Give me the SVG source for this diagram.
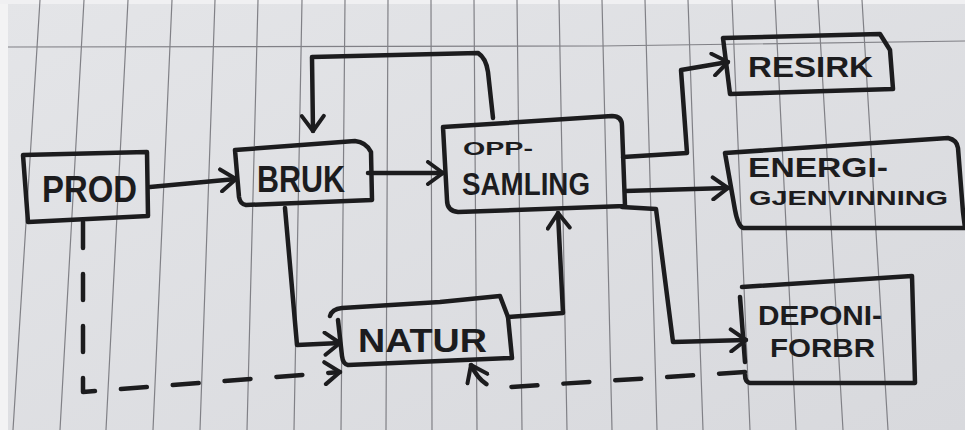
<svg xmlns="http://www.w3.org/2000/svg" width="965" height="430" viewBox="0 0 965 430">
<style>
.grid{stroke:#808086;stroke-width:1.2;fill:none}
.box{fill:none;stroke:#1c1c1e;stroke-width:4.5;stroke-linejoin:round;stroke-linecap:round}
.edge{fill:none;stroke:#1c1c1e;stroke-width:4.5;stroke-linejoin:round;stroke-linecap:round}
.dash{stroke-dasharray:26 26}
.lbl{font-family:"Liberation Sans","DejaVu Sans",sans-serif;font-weight:bold;fill:#1c1c1e}
</style>
<defs>
<linearGradient id="paper" x1="0" y1="0" x2="1" y2="1">
<stop offset="0" stop-color="#e4e5e8"/>
<stop offset="1" stop-color="#d8d9dd"/>
</linearGradient>
<marker id="ah" viewBox="0 0 20 26" refX="18" refY="13" markerWidth="20" markerHeight="26" markerUnits="userSpaceOnUse" orient="auto">
<path d="M3,2 L18,13 L3,24" fill="none" stroke="#1c1c1e" stroke-width="4" stroke-linecap="round" stroke-linejoin="round"/>
</marker>
</defs>
<rect width="965" height="430" fill="url(#paper)"/>
<rect width="8" height="430" fill="#f3f3f4"/>
<rect width="965" height="4" fill="#f0f0f2"/>
<g id="paper-grid">
<path class="grid" d="M40,0 L13,430 M84,0 L60,430 M128,0 L106,430 M172,0 L153,430 M215,0 L200,430 M258,0 L247,430 M302,0 L294,430 M345,0 L341,430 M388,0 L386,430 M431,0 L432,430 M474,0 L477,430 M517,0 L522,430 M559,0 L567,430 M602,0 L612,430 M645,0 L657,430 M688,0 L703,430 M732,0 L750,430 M775,0 L796,430 M818,0 L843,430 M862,0 L888,430"/>
<path class="grid" d="M8,47 L600,46 L965,41" stroke-width="1.5"/>
</g>
<g id="connectors">
<path class="edge" d="M150,187 L236,179" marker-end="url(#ah)"/>
<path class="edge" d="M368,173 L443,173" marker-end="url(#ah)"/>
<path class="edge" d="M493,118 L488,72 Q486,58 478,53 L312,57 L313,131" marker-end="url(#ah)"/>
<path class="edge" d="M285,208 L297,345 L340,343" marker-end="url(#ah)"/>
<path class="edge" d="M508,317 L563,313 L558,213" marker-end="url(#ah)"/>
<path class="edge" d="M623,157 L687,153 L681,70 L728,62" marker-end="url(#ah)"/>
<path class="edge" d="M625,191 L728,188" marker-end="url(#ah)"/>
<path class="edge" d="M622,207 L656,209 L673,342 L746,340" marker-end="url(#ah)"/>
<path class="edge dash" d="M83,222 L83,392 L340,372" marker-end="url(#ah)"/>
<path class="edge dash" d="M745,372 L495,388 Q480,384 471,365" marker-end="url(#ah)"/>
</g>
<g id="prod">
<path class="box" d="M23,155 L147,152 L148,216 L28,222 Z"/>
<text class="lbl" x="42" y="202" font-size="37" textLength="95" lengthAdjust="spacingAndGlyphs">PROD</text>
</g>
<g id="bruk">
<path class="box" d="M235,150 L355,141 Q366,142 371,152 L372,200 L246,205 Q240,204 239,197 Z"/>
<text class="lbl" x="257" y="192" font-size="37" textLength="88" lengthAdjust="spacingAndGlyphs">BRUK</text>
</g>
<g id="oppsamling">
<path class="box" d="M443,127 L612,116 Q622,116 622,126 L625,206 L458,212 Q447,211 447,200 Z"/>
<text class="lbl" x="463" y="155" font-size="18" textLength="70" lengthAdjust="spacingAndGlyphs">OPP-</text>
<text class="lbl" x="462" y="195" font-size="31" textLength="128" lengthAdjust="spacingAndGlyphs">SAMLING</text>
</g>
<g id="resirk">
<path class="box" d="M723,38 L880,34 L890,50 L893,89 L730,94 Z"/>
<text class="lbl" x="748" y="77" font-size="30" textLength="125" lengthAdjust="spacingAndGlyphs">RESIRK</text>
</g>
<g id="energi">
<path class="box" d="M725,153 L948,138 Q957,140 958,148 L963,212 L965,228 L743,228 Q738,226 735,210 Z"/>
<text class="lbl" x="748" y="177" font-size="27" textLength="140" lengthAdjust="spacingAndGlyphs">ENERGI-</text>
<text class="lbl" x="749" y="205" font-size="21" textLength="199" lengthAdjust="spacingAndGlyphs">GJENVINNING</text>
</g>
<g id="deponi">
<path class="box" d="M742,287 L912,276 L915,383 L750,383 Q745,382 745,375 M740,297 L745,362"/>
<text class="lbl" x="758" y="325" font-size="27" textLength="124" lengthAdjust="spacingAndGlyphs">DEPONI-</text>
<text class="lbl" x="770" y="357" font-size="26" textLength="105" lengthAdjust="spacingAndGlyphs">FORBR</text>
</g>
<g id="natur">
<path class="box" d="M330,316 Q332,309 342,308 L440,302 L500,296 L508,317 L512,358 L348,365 Q343,364 342,356 L338,320"/>
<text class="lbl" x="358" y="352" font-size="33" textLength="129" lengthAdjust="spacingAndGlyphs">NATUR</text>
</g>
</svg>
